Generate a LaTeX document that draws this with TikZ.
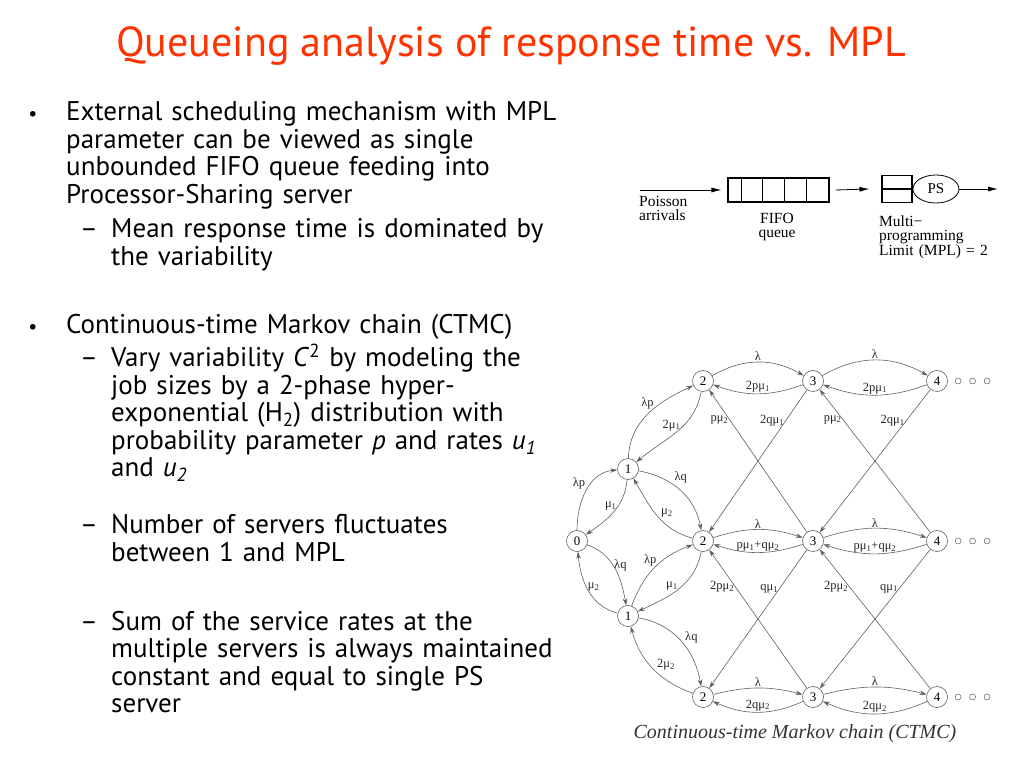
\documentclass[tikz,border=0pt]{standalone}
\usepackage{fontspec}
\setmainfont{Liberation Serif}
\newfontfamily\slidefont{PT Sans}
\usetikzlibrary{arrows.meta,positioning,shapes.geometric}
\definecolor{titlered}{RGB}{255,51,0}
\definecolor{chaingray}{RGB}{95,95,95}
\newcommand{\mone}{μ\textsubscript{1}}
\newcommand{\mtwo}{μ\textsubscript{2}}
\tikzset{
  st/.style={circle, draw=chaingray, line width=0.6pt, minimum size=21pt, inner sep=0pt, font=\fontsize{13}{13}\selectfont},
  tr/.style={-{Stealth[length=7pt,width=4.5pt]}, draw=chaingray, line width=0.6pt},
  lbl/.style={font=\fontsize{12.5}{12.5}\selectfont, inner sep=1pt, text=black!85},
  more/.style={circle, draw=chaingray, line width=0.5pt, minimum size=6pt, inner sep=0pt},
  qline/.style={line width=1.1pt},
  qarrow/.style={-{Latex[length=10pt,width=5pt]}, line width=0.8pt},
  qtext/.style={inner sep=0pt, anchor=base west, text width=130pt, align=left},
  body/.style={font=\slidefont\fontsize{27}{27.5}\selectfont, anchor=base west, inner sep=0pt, text width=600pt, align=left},
  bul/.style={font=\slidefont\fontsize{20}{20}\selectfont, anchor=base, inner sep=0pt},
  dsh/.style={font=\slidefont\fontsize{27}{27}\selectfont, anchor=base, inner sep=0pt}
}

\begin{document}
\begin{tikzpicture}[x=1pt, y=1pt]
  \useasboundingbox (0,0) rectangle (1024,768);
  % title
  \node[font=\slidefont\fontsize{42}{42}\selectfont, text=titlered, anchor=base] (title) at (511,711) {Queueing analysis of response time vs. MPL};

  % bullet text
  \node[bul] (bul1) at (33,647) {•};
  \node[body] (txt1) at (66,647) {External scheduling mechanism with MPL\\parameter can be viewed as single\\unbounded FIFO queue feeding into\\Processor-Sharing server};
  \node[dsh] (dsh1) at (89,530) {–};
  \node[body] (sub1) at (111,530) {Mean response time is dominated by\\the variability};
  \node[bul] (bul2) at (33,434) {•};
  \node[body] (txt2) at (66,434) {Continuous-time Markov chain (CTMC)};
  \node[dsh] (dsh2) at (89,401) {–};
  \node[body] (sub2) at (111,401) {Vary variability \textit{C}\textsuperscript{2} by modeling the\\job sizes by a 2-phase hyper-\\exponential (H\textsubscript{2}) distribution with\\probability parameter \textit{p} and rates \textit{u\textsubscript{1}}\\and \textit{u\textsubscript{2}}};
  \node[dsh] (dsh3) at (89,234) {–};
  \node[body] (sub3) at (111,234) {Number of servers fluctuates\\between 1 and MPL};
  \node[dsh] (dsh4) at (89,138) {–};
  \node[body] (sub4) at (111,138) {Sum of the service rates at the\\multiple servers is always maintained\\constant and equal to single PS\\server};

  % queue picture
  \coordinate (arrsrc) at (640,578);
  \node[qline, draw, minimum width=101pt, minimum height=24pt, inner sep=0pt] (fifo) at (778.5,578) {};
  \foreach \x in {14,35,57,79}
    \draw[qline] ([xshift=\x pt]fifo.south west) -- ([xshift=\x pt]fifo.north west);
  \node[qline, draw, minimum width=30pt, minimum height=27pt, inner sep=0pt] (mpl) at (897,579) {};
  \draw[qline] (mpl.west) -- (mpl.east);
  \node[ellipse, draw, line width=0.8pt, minimum width=46pt, minimum height=28pt, inner sep=0pt, right=0pt of mpl, font=\fontsize{15}{15}\selectfont] (ps) {PS};
  \coordinate (psout) at (998,579);
  \draw[qarrow] (arrsrc) -- ([xshift=-6pt]fifo.west);
  \draw[qarrow] ([xshift=6pt]fifo.east) -- ([xshift=-12pt]mpl.west);
  \draw[qarrow] (ps.east) -- (psout);
  \node[qtext, font=\fontsize{15.5}{14}\selectfont] (arrtxt) at (639,561) {Poisson\\arrivals};
  \node[qtext, font=\fontsize{15.5}{13.5}\selectfont, text width=60pt, align=center, anchor=base] (fifotxt) at (777,544) {FIFO\\queue};
  \node[qtext, font=\fontsize{15.5}{13.5}\selectfont] (mpltxt) at (879,541) {Multi−\\programming\\Limit (MPL) = 2};

  % markov chain states
  \node[st] (s0) at (577,227) {0};
  \node[st] (u1) at (628,299) {1};
  \node[st] (l1) at (628,152) {1};
  \foreach \n/\x in {2/703,3/813,4/937}{
    \node[st] (t\n) at (\x,387) {\n};
    \node[st] (m\n) at (\x,227) {\n};
    \node[st] (b\n) at (\x,71) {\n};
  }
  \foreach \rw in {t,m,b}{
    \node[more, right=7pt of \rw4] (\rw x1) {};
    \node[more, right=8pt of \rw x1] (\rw x2) {};
    \node[more, right=8pt of \rw x2] (\rw x3) {};
  }

  % left fan
  \draw[tr] (s0) to[out=90,in=185] node[lbl,above left] {λp} (u1);
  \draw[tr] (u1) to[out=-95,in=35] node[lbl,pos=0.4,left] {\mone} (s0);
  \draw[tr] (s0) to[out=-20,in=100] node[lbl,pos=0.45,right] {λq} (l1);
  \draw[tr] (l1) to[out=165,in=-85] node[lbl,pos=0.55,right] {\mtwo} (s0);
  \draw[tr] (u1) to[out=88,in=205] node[lbl,pos=0.55,above left,xshift=3pt] {λp} (t2);
  \draw[tr] (t2) to[out=-100,in=40] node[lbl,pos=0.4,left,xshift=-2pt] {2\mone} (u1);
  \draw[tr] (u1) to[out=-10,in=100] node[lbl,pos=0.4,above right] {λq} (m2);
  \draw[tr] (m2) to[out=165,in=-60] node[lbl,pos=0.45,above right] {\mtwo} (u1);
  \draw[tr] (l1) to[out=70,in=200] node[lbl,pos=0.5,above left,xshift=3pt] {λp} (m2);
  \draw[tr] (m2) to[out=-100,in=25] node[lbl,pos=0.45,left,xshift=-3pt] {\mone} (l1);
  \draw[tr] (l1) to[out=-10,in=100] node[lbl,pos=0.55,above right] {λq} (b2);
  \draw[tr] (b2) to[out=160,in=-75] node[lbl,pos=0.45,above right] {2\mtwo} (l1);

  % rows
  \foreach \a/\b in {2/3,3/4}{
    \draw[tr] (t\a) to[bend left=30] node[lbl,above] {λ} (t\b);
    \draw[tr] (t\b) to[bend left=20] node[lbl,above] {2p\mone} (t\a);
    \draw[tr] (m\a) to[bend left=18] node[lbl,above] {λ} (m\b);
    \draw[tr] (m\b) to[bend left=18] node[lbl,above] {p\mone+q\mtwo} (m\a);
    \draw[tr] (b\a) to[bend left=14] node[lbl,above] {λ} (b\b);
    \draw[tr] (b\b) to[bend left=24] node[lbl,above] {2q\mtwo} (b\a);
  }

  % diagonals
  \foreach \a/\b in {2/3,3/4}{
    \draw[tr] (m\b) -- node[lbl,pos=0.79,left] {p\mtwo} (t\a);
    \draw[tr] (t\b) -- node[lbl,pos=0.22,left] {2q\mone} (m\a);
    \draw[tr] (b\b) -- node[lbl,pos=0.73,left] {2p\mtwo} (m\a);
    \draw[tr] (m\b) -- node[lbl,pos=0.28,left] {q\mone} (b\a);
  }

  \node[font=\itshape\fontsize{20}{20}\selectfont, text=black!80, anchor=base] (cap) at (795,30) {Continuous-time Markov chain (CTMC)};
\end{tikzpicture}
\end{document}
